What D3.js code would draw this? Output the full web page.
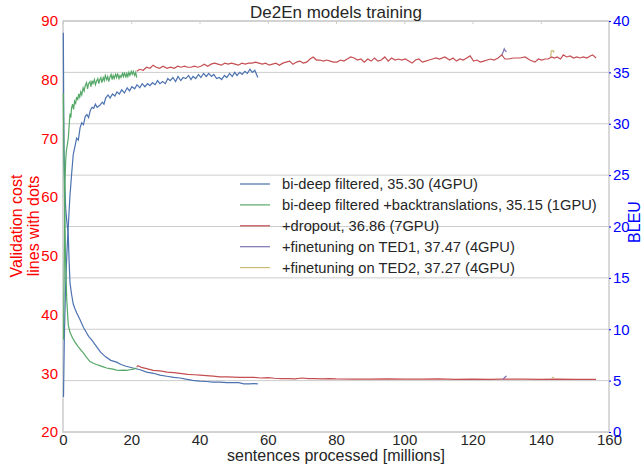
<!DOCTYPE html>
<html>
<head>
<meta charset="utf-8">
<script src="https://cdn.jsdelivr.net/npm/d3@7"></script>
<style>
  body { margin: 0; background: #fff; }
  svg { display: block; font-family: "Liberation Sans", Arial, sans-serif; }
</style>
</head>
<body>
<svg width="644" height="465"></svg>
<script>
// ---- data (x in millions of sentences) ----
const seriesNames = [
  "bi-deep filtered, 35.30 (4GPU)",
  "bi-deep filtered +backtranslations, 35.15 (1GPU)",
  "+dropout, 36.86 (7GPU)",
  "+finetuning on TED1, 37.47 (4GPU)",
  "+finetuning on TED2, 37.27 (4GPU)"
];
const seriesColors = ["#4c72b0", "#55a868", "#c44e52", "#8172b2", "#ccb974"];

const leftTicks = [20, 30, 40, 50, 60, 70, 80, 90];
const rightTicks = [0, 5, 10, 15, 20, 25, 30, 35, 40];
const xTicks = [0, 20, 40, 60, 80, 100, 120, 140, 160];

// BLEU curves (right axis)
const bleuBlue = [[0.15,3.4],[0.38,9.0],[0.7,13.5],[1.0,16.3],[1.3,18.5],[1.55,20.0],[2.0,22.8],[2.5,25.0],[3.0,27.0],[3.5,27.8],[4.0,28.6],[4.5,28.4],[5.0,29.6],[5.5,30.1],[6.0,29.9],[6.5,30.7],[7.0,30.9],[7.5,30.6],[8.0,31.3],[8.5,31.6],[9.0,31.5],[9.5,31.9],[10.0,31.6],[10.8,31.8],[11.5,32.1],[12.0,31.9],[12.5,32.5],[13.2,32.8],[13.8,32.5],[14.5,32.9],[15.2,32.7],[15.8,33.1],[16.5,32.9],[17.2,33.3],[18.0,33.0],[18.8,33.5],[19.5,33.2],[20.2,33.6],[21.0,33.4],[21.7,33.8],[22.5,33.5],[23.2,33.9],[24.0,33.6],[24.8,33.9],[25.5,33.7],[26.2,34.0],[27.0,33.8],[27.7,34.2],[28.4,33.9],[29.2,34.1],[30.0,33.9],[30.7,34.4],[31.4,34.2],[32.2,34.5],[33.0,34.1],[33.7,34.6],[34.5,34.2],[35.2,34.5],[36.0,34.4],[36.8,34.7],[37.5,34.3],[38.1,34.6],[38.9,34.4],[39.7,34.8],[40.4,34.5],[41.2,34.9],[42.0,34.6],[42.7,34.9],[43.5,34.6],[44.2,34.8],[45.0,34.4],[45.8,34.5],[46.5,34.3],[47.3,34.7],[48.0,34.5],[48.8,34.9],[49.6,34.6],[50.3,35.0],[51.0,34.7],[51.8,35.0],[52.5,34.8],[53.3,35.1],[54.0,34.9],[54.8,35.3],[55.5,35.0],[56.2,35.2],[57.1,34.5]];
const bleuGreen = [[0.15,9.0],[0.3,14.0],[0.45,19.0],[0.6,24.5],[0.8,26.5],[1.0,27.4],[1.3,28.0],[1.55,28.6],[1.8,29.8],[2.05,31.0],[2.3,30.6],[2.5,31.5],[2.8,31.9],[3.1,31.4],[3.4,32.2],[3.7,32.0],[4.0,32.6],[4.3,32.3],[4.6,32.9],[4.9,32.6],[5.2,33.1],[5.5,32.8],[5.9,33.5],[6.2,33.2],[6.5,33.7],[6.9,34.0],[7.2,33.4],[7.5,33.9],[7.9,34.1],[8.2,33.6],[8.5,34.2],[8.8,33.9],[9.2,34.3],[9.5,33.8],[9.9,34.2],[10.2,34.4],[10.5,33.9],[10.8,34.3],[11.1,34.5],[11.4,34.0],[11.8,34.5],[12.1,34.2],[12.4,34.7],[12.8,34.3],[13.1,34.6],[13.4,34.1],[13.8,34.6],[14.1,34.8],[14.4,34.3],[14.7,34.7],[15.0,34.4],[15.4,34.8],[15.7,34.5],[16.0,34.9],[16.4,34.4],[16.7,34.7],[17.0,34.5],[17.4,34.9],[17.7,34.6],[18.0,35.0],[18.4,34.5],[18.7,34.9],[19.0,34.6],[19.3,35.0],[19.6,34.7],[20.0,35.1],[20.3,34.8],[20.6,35.1],[21.0,34.7],[21.3,35.0],[21.6,34.5]];
const bleuRed = [[21.6,35.1],[22.5,35.3],[23.5,35.2],[24.5,35.5],[25.5,35.4],[26.4,35.7],[27.3,35.5],[28.3,35.4],[29.3,35.6],[30.5,35.4],[31.5,35.5],[32.6,35.4],[33.6,35.6],[34.6,35.5],[35.6,35.6],[36.5,35.5],[37.5,35.5],[38.5,35.6],[39.5,35.5],[40.4,35.6],[41.4,35.8],[42.4,35.6],[43.4,35.8],[44.4,35.9],[45.4,35.8],[46.4,35.7],[47.4,35.9],[48.4,35.8],[49.4,35.9],[50.4,35.8],[51.4,35.7],[52.4,35.9],[53.4,35.8],[54.4,35.9],[55.4,35.9],[56.4,36.0],[57.4,35.9],[58.4,35.8],[59.4,35.9],[60.4,35.7],[61.4,35.8],[62.4,35.9],[63.4,35.7],[64.4,35.9],[65.4,36.0],[66.4,36.1],[67.4,35.8],[68.4,36.0],[69.4,36.1],[70.4,35.9],[71.4,36.0],[72.4,36.3],[73.3,36.5],[74.3,36.2],[75.3,36.2],[76.3,36.1],[77.3,36.2],[78.3,36.1],[79.3,36.0],[80.3,36.0],[81.3,36.2],[82.3,36.1],[83.3,36.3],[84.3,36.5],[85.3,36.4],[86.3,36.2],[87.3,36.3],[88.3,36.0],[89.3,36.3],[90.3,36.1],[91.3,36.4],[92.3,36.1],[93.3,36.2],[94.3,36.5],[95.3,36.1],[96.3,36.4],[97.3,36.2],[98.3,36.3],[99.3,36.2],[100.3,36.3],[101.3,36.1],[102.3,35.9],[103.3,36.2],[104.3,36.3],[105.3,36.0],[106.3,36.1],[107.3,36.2],[108.3,36.3],[109.3,36.4],[110.3,36.3],[111.9,36.5],[113.3,36.2],[114.3,36.4],[115.3,36.1],[116.3,36.3],[117.3,36.2],[118.3,36.4],[119.3,36.6],[120.3,36.1],[121.3,36.2],[122.3,36.0],[123.3,36.1],[124.3,36.2],[125.3,36.3],[126.3,36.2],[127.5,36.4],[128.6,36.7],[129.5,36.3],[130.5,36.3],[132.0,36.4],[134.0,36.4],[135.4,36.5],[136.8,36.2],[138.3,36.0],[139.3,36.3],[140.3,36.2],[141.3,36.3],[142.2,36.3],[143.2,36.5],[144.0,36.4],[144.8,36.5],[145.8,36.3],[146.6,36.7],[147.6,36.5],[148.6,36.6],[149.6,36.4],[150.6,36.5],[151.5,36.4],[152.5,36.5],[153.5,36.4],[154.5,36.6],[155.2,36.7],[156.2,36.4]];
const bleuPurple = [[128.6,36.7],[128.9,36.9],[129.3,37.3],[129.6,37.1],[130.0,37.0]];
const bleuYellow = [[142.9,36.5],[143.1,37.1],[143.8,37.1],[143.8,36.9]];

// validation cost curves (left axis)
const costBlue = [[0.1,88],[0.2,76],[0.3,68],[0.5,62],[0.8,58],[1.1,56],[1.55,53.5],[1.8,49],[2.05,45.4],[2.5,43.5],[3.0,41.8],[3.5,41.0],[4.0,40.3],[5.0,39.1],[6.0,37.8],[6.9,36.9],[7.5,36.3],[8.4,35.7],[9.9,34.5],[11.0,33.6],[12.5,32.8],[14.0,32.2],[15.7,31.9],[17.0,31.5],[18.5,31.2],[20.5,30.9],[22.6,30.6],[24.5,30.2],[26.5,30.0],[28.4,29.7],[30.4,29.5],[32.5,29.3],[34.3,29.2],[36.0,29.0],[38.0,28.8],[40.1,28.65],[42.0,28.6],[44.0,28.5],[46.0,28.5],[48.0,28.4],[49.8,28.4],[51.5,28.4],[53.0,28.2],[54.5,28.2],[56.0,28.25],[57.1,28.2]];
const costGreen = [[0.1,77.7],[0.25,68],[0.45,59.5],[0.75,49.3],[1.1,42.5],[1.55,38.2],[2.05,37.0],[2.8,36.0],[3.5,35.3],[4.5,34.5],[5.2,34.0],[5.9,33.5],[6.9,32.7],[7.9,32.0],[8.9,31.7],[9.8,31.5],[10.8,31.3],[11.8,31.1],[12.8,30.9],[13.7,30.8],[14.7,30.7],[15.7,30.55],[16.7,30.5],[17.7,30.55],[18.7,30.5],[19.6,30.6],[20.6,30.7],[21.6,30.9]];
const costRed = [[21.6,31.1],[22.0,31.3],[23.0,31.0],[24.5,30.8],[26.4,30.5],[28.5,30.4],[30.5,30.2],[32.5,30.1],[34.3,30.0],[36.5,29.8],[38.5,29.75],[40.1,29.7],[42.0,29.6],[44.0,29.5],[46.0,29.4],[48.0,29.4],[50.0,29.35],[52.0,29.3],[54.0,29.3],[56.0,29.3],[58.0,29.2],[60.0,29.25],[62.0,29.15],[64.0,29.1],[66.0,29.1],[68.0,29.05],[70.0,29.2],[72.0,29.1],[74.0,29.1],[76.0,29.05],[78.0,29.1],[80.0,29.05],[85.0,29.0],[90.0,29.0],[95.0,29.05],[100.0,29.0],[105.0,29.0],[110.0,29.05],[115.0,28.95],[120.0,29.0],[125.0,28.95],[128.6,29.0],[130.0,29.0],[135.0,29.0],[140.0,28.95],[145.0,29.0],[150.0,28.95],[156.2,28.97]];
const costPurple = [[128.9,28.9],[129.3,29.2],[129.7,29.45],[130.0,29.55]];
const costYellow = [[143.2,29.1],[143.6,29.3],[143.9,29.25]];

// ---- layout ----
const width = 644, height = 465;
const margin = { top: 21, right: 35, bottom: 33, left: 63 };
const textColor = "#262626";
const gridColor = "#cccccc";

const svg = d3.select("svg");

const x = d3.scaleLinear().domain([0, 160]).range([margin.left, width - margin.right]);
const yLeft = d3.scaleLinear().domain([20, 90]).range([height - margin.bottom, margin.top]);
const yRight = d3.scaleLinear().domain([0, 40]).range([height - margin.bottom, margin.top]);

// horizontal gridlines follow the BLEU axis
svg.append("g")
  .selectAll("line")
  .data(rightTicks)
  .join("line")
  .attr("x1", margin.left)
  .attr("x2", width - margin.right)
  .attr("y1", d => yRight(d))
  .attr("y2", d => yRight(d))
  .attr("stroke", gridColor)
  .attr("stroke-width", 1);

// frame
svg.append("rect")
  .attr("x", margin.left)
  .attr("y", margin.top)
  .attr("width", width - margin.left - margin.right)
  .attr("height", height - margin.top - margin.bottom)
  .attr("fill", "none")
  .attr("stroke", gridColor)
  .attr("stroke-width", 1.5);

// axes
const xAxis = svg.append("g")
  .attr("transform", `translate(0,${height - margin.bottom})`)
  .call(d3.axisBottom(x).tickValues(xTicks).tickSize(0).tickPadding(2));
const xTop = svg.append("g")
  .attr("transform", `translate(0,${margin.top})`)
  .call(d3.axisBottom(x).tickValues(xTicks).tickSize(3).tickFormat(""));
const leftAxis = svg.append("g")
  .attr("transform", `translate(${margin.left},0)`)
  .call(d3.axisLeft(yLeft).tickValues(leftTicks).tickSize(0).tickPadding(5));
const rightAxis = svg.append("g")
  .attr("transform", `translate(${width - margin.right},0)`)
  .call(d3.axisRight(yRight).tickValues(rightTicks).tickSize(2).tickPadding(2));

[xAxis, xTop, leftAxis, rightAxis].forEach(g => {
  g.select(".domain").remove();
  g.attr("font-family", null).attr("font-size", null);
});
xTop.selectAll("line").attr("stroke", gridColor);
rightAxis.selectAll("line").attr("stroke", "#0000ff");

xAxis.selectAll("text").attr("font-size", 15).attr("fill", textColor);
leftAxis.selectAll("text").attr("font-size", 15).attr("fill", "#ff0000");
rightAxis.selectAll("text").attr("font-size", 15).attr("fill", "#0000ff");

// lines
const lineL = d3.line().x(d => x(d[0])).y(d => yLeft(d[1]));
const lineR = d3.line().x(d => x(d[0])).y(d => yRight(d[1]));

const series = [
  { cost: costBlue, bleu: bleuBlue },
  { cost: costGreen, bleu: bleuGreen },
  { cost: costRed, bleu: bleuRed },
  { cost: costPurple, bleu: bleuPurple },
  { cost: costYellow, bleu: bleuYellow }
];

series.forEach((s, i) => {
  svg.append("path")
    .attr("d", lineL(s.cost))
    .attr("fill", "none")
    .attr("stroke", seriesColors[i])
    .attr("stroke-width", 1.2);
  svg.append("path")
    .attr("d", lineR(s.bleu))
    .attr("fill", "none")
    .attr("stroke", seriesColors[i])
    .attr("stroke-width", 1.2);
});

// legend
const legend = svg.append("g").attr("transform", "translate(240,184)");
seriesNames.forEach((name, i) => {
  const row = legend.append("g").attr("transform", `translate(0,${i * 20.9})`);
  row.append("line")
    .attr("x1", 0).attr("x2", 30)
    .attr("stroke", seriesColors[i])
    .attr("stroke-width", 1.2);
  row.append("text")
    .attr("x", 42)
    .attr("dy", "0.35em")
    .attr("font-size", 14.7)
    .attr("fill", textColor)
    .text(name);
});

// title and axis labels
svg.append("text")
  .attr("x", 336)
  .attr("y", 18)
  .attr("text-anchor", "middle")
  .attr("font-size", 17)
  .attr("fill", textColor)
  .text("De2En models training");

svg.append("text")
  .attr("x", 336)
  .attr("y", 461)
  .attr("text-anchor", "middle")
  .attr("font-size", 16)
  .attr("fill", textColor)
  .text("sentences processed [millions]");

const yLabel = svg.append("text")
  .attr("transform", "translate(22,226) rotate(-90)")
  .attr("text-anchor", "middle")
  .attr("font-size", 16)
  .attr("fill", "#ff0000");
yLabel.append("tspan").attr("x", 0).attr("dy", 0).text("Validation cost");
yLabel.append("tspan").attr("x", 0).attr("dy", 17).text("lines with dots");

svg.append("text")
  .attr("transform", "translate(640,222) rotate(-90)")
  .attr("text-anchor", "middle")
  .attr("font-size", 16)
  .attr("fill", "#0000ff")
  .text("BLEU");
</script>
</body>
</html>
